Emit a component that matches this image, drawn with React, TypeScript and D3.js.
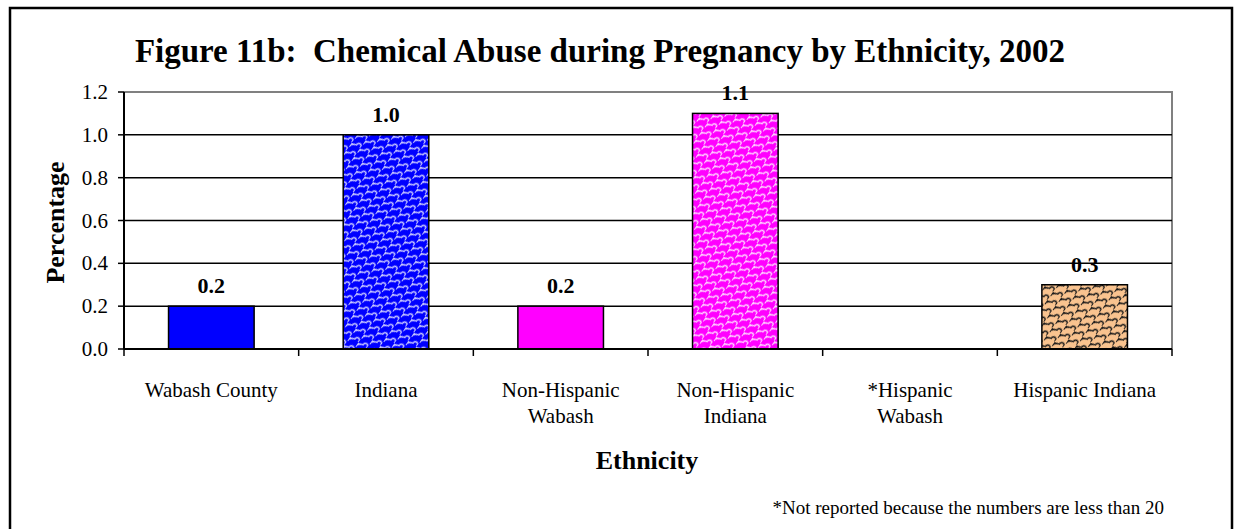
import React from "react";
import * as d3 from "d3";

// data
const categories = [
  ["Wabash County"],
  ["Indiana"],
  ["Non-Hispanic", "Wabash"],
  ["Non-Hispanic", "Indiana"],
  ["*Hispanic", "Wabash"],
  ["Hispanic Indiana"],
];
const values: (number | null)[] = [0.2, 1.0, 0.2, 1.1, null, 0.3];
const fills = ["#0000ff", "#0000ff", "#ff00ff", "#ff00ff", "#ffffff", "#f9c38f"];
const patterns = [null, "scaleBlue", null, "scalePink", null, "scaleTan"];
const yTicks = [0, 0.2, 0.4, 0.6, 0.8, 1.0, 1.2];

const W = 1235;
const H = 529;
const FONT = "'Liberation Serif', 'Times New Roman', serif";

const plot = { left: 124, right: 1172, top: 92, bottom: 349 };

const ScalePattern = ({ id, bg, line }: { id: string; bg: string; line: string }) => (
  <pattern
    id={id}
    width={10}
    height={10}
    patternUnits="userSpaceOnUse"
    patternTransform="rotate(35)"
  >
    <rect width={10} height={10} fill={bg} />
    <path
      d="M0,10 C0,4.5 5,4.5 5,5 C5,0 10,0 10,5 M0,5 L0,10"
      fill="none"
      stroke={line}
      strokeWidth={1.5}
    />
  </pattern>
);

export default function App() {
  const x = d3
    .scaleBand<number>()
    .domain(d3.range(categories.length))
    .range([plot.left, plot.right])
    .padding(0);
  const y = d3.scaleLinear().domain([0, 1.2]).range([plot.bottom, plot.top]);
  const bw = x.bandwidth() * 0.49;

  return (
    <svg
      width={W}
      height={H}
      style={{ position: "absolute", left: 0, top: 0, background: "#fff" }}
      fontFamily={FONT}
    >
      <defs>
        <ScalePattern id="scaleBlue" bg="#0000ff" line="#c8c8ff" />
        <ScalePattern id="scalePink" bg="#ff00ff" line="#ffd0ff" />
        <ScalePattern id="scaleTan" bg="#f9c38f" line="#1a1a1a" />
      </defs>
      <rect x={0} y={0} width={W} height={H} fill="#fff" />
      {/* outer frame */}
      <rect x={10} y={8} width={1222} height={540} fill="none" stroke="#000" strokeWidth={2.5} />

      {/* title */}
      <text
        x={600}
        y={62}
        textAnchor="middle"
        fontWeight="bold"
        fontSize={33}
        style={{ whiteSpace: "pre" }}
      >
        {"Figure 11b:  Chemical Abuse during Pregnancy by Ethnicity, 2002"}
      </text>

      {/* plot area border (gray) */}
      <path
        d={`M${plot.left},${plot.top}H${plot.right}V${plot.bottom}`}
        fill="none"
        stroke="#808080"
        strokeWidth={2}
      />

      {/* gridlines */}
      {yTicks
        .filter((t) => t > 0 && t < 1.2)
        .map((t) => (
          <line
            key={t}
            x1={plot.left}
            x2={plot.right}
            y1={y(t)}
            y2={y(t)}
            stroke="#000"
            strokeWidth={1.5}
          />
        ))}

      {/* bars */}
      {values.map((v, i) => {
        if (v == null) return null;
        const cx = x(i)! + x.bandwidth() / 2;
        return (
          <g key={i}>
            <rect
              x={cx - bw / 2}
              y={y(v)}
              width={bw}
              height={y(0) - y(v)}
              fill={patterns[i] ? `url(#${patterns[i]})` : fills[i]}
              stroke="#000"
              strokeWidth={1.5}
            />
            <text
              x={cx}
              y={y(v) - 13}
              textAnchor="middle"
              fontWeight="bold"
              fontSize={22}
            >
              {v.toFixed(1)}
            </text>
          </g>
        );
      })}

      {/* y axis */}
      <line x1={plot.left} x2={plot.left} y1={plot.top} y2={plot.bottom} stroke="#000" strokeWidth={2} />
      {yTicks.map((t) => (
        <g key={t}>
          <line x1={plot.left - 6} x2={plot.left} y1={y(t)} y2={y(t)} stroke="#000" strokeWidth={1.5} />
          <text x={plot.left - 16} y={y(t) + 7} textAnchor="end" fontSize={21}>
            {t.toFixed(1)}
          </text>
        </g>
      ))}

      {/* x axis */}
      <line x1={plot.left} x2={plot.right} y1={plot.bottom} y2={plot.bottom} stroke="#000" strokeWidth={2} />
      {d3.range(categories.length + 1).map((i) => {
        const xx = i < categories.length ? x(i)! : plot.right;
        return (
          <line key={i} x1={xx} x2={xx} y1={plot.bottom} y2={plot.bottom + 7} stroke="#000" strokeWidth={1.5} />
        );
      })}
      {categories.map((lines, i) => (
        <text key={i} x={x(i)! + x.bandwidth() / 2} y={397} textAnchor="middle" fontSize={21}>
          {lines.map((l, j) => (
            <tspan key={j} x={x(i)! + x.bandwidth() / 2} dy={j === 0 ? 0 : 26}>
              {l}
            </tspan>
          ))}
        </text>
      ))}

      {/* axis titles */}
      <text
        transform={`translate(64,${(plot.top + plot.bottom) / 2 + 2}) rotate(-90)`}
        textAnchor="middle"
        fontWeight="bold"
        fontSize={26}
      >
        Percentage
      </text>
      <text x={647} y={469} textAnchor="middle" fontWeight="bold" fontSize={26}>
        Ethnicity
      </text>

      <text x={1164} y={514} textAnchor="end" fontSize={19}>
        *Not reported because the numbers are less than 20
      </text>
    </svg>
  );
}
